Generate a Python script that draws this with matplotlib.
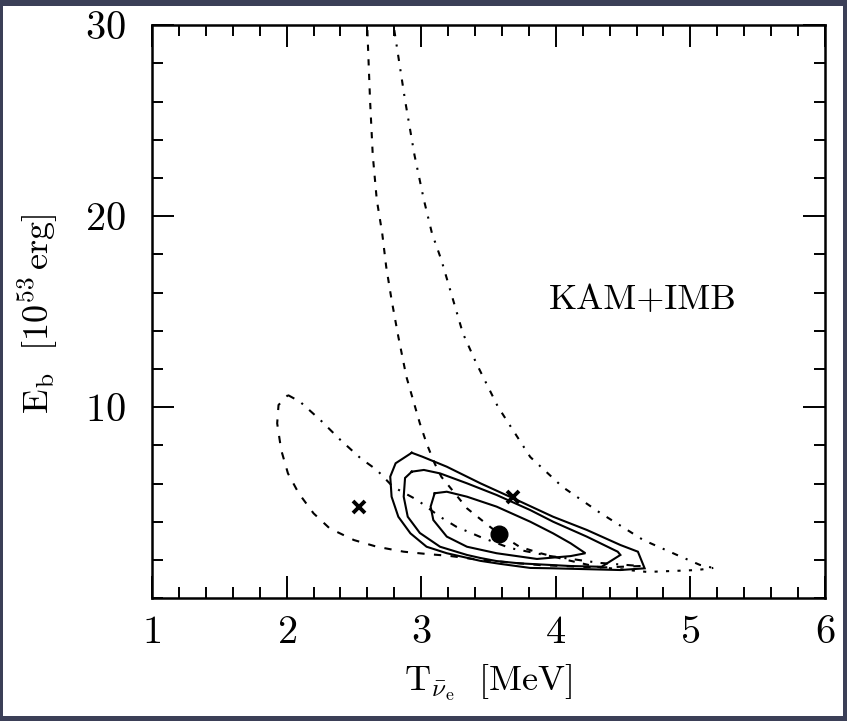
import matplotlib
matplotlib.use("Agg")
import matplotlib.pyplot as plt
from matplotlib.patches import Rectangle
from matplotlib.ticker import MultipleLocator

# Computer Modern look, like the original TeX figure
plt.rcParams['font.family'] = 'cmr10'
plt.rcParams['mathtext.fontset'] = 'cm'
plt.rcParams['axes.formatter.use_mathtext'] = True

# --- data: T [MeV], E_b [10^53 erg] ---

# solid likelihood contours (KAM+IMB), outer -> inner, closed
outer_T = [2.93, 3.01, 3.19, 3.44, 3.68, 3.98, 4.23, 4.48, 4.61, 4.66, 4.48, 3.98, 3.81,
           3.59, 3.44, 3.19, 3.04, 2.92, 2.83, 2.78, 2.77, 2.81, 2.93]
outer_E = [7.62, 7.41, 6.89, 6.02, 5.25, 4.27, 3.58, 2.79, 2.44, 1.57, 1.48, 1.57, 1.59,
           1.80, 1.96, 2.36, 2.70, 3.40, 4.27, 5.32, 6.37, 7.07, 7.62]

middle_T = [2.93, 3.02, 3.14, 3.34, 3.56, 3.81, 3.98, 4.23, 4.46, 4.48, 4.34, 4.11, 3.73,
            3.56, 3.44, 3.34, 3.14, 2.99, 2.90, 2.87, 2.88, 2.93]
middle_E = [6.63, 6.72, 6.54, 6.02, 5.41, 4.62, 4.01, 3.23, 2.44, 2.27, 1.65, 1.69, 1.83,
            1.95, 2.11, 2.27, 2.70, 3.42, 4.27, 5.32, 6.30, 6.63]

inner_T = [3.10, 3.19, 3.34, 3.56, 3.81, 3.98, 4.11, 4.22, 4.11, 3.86, 3.56, 3.34, 3.19,
           3.09, 3.07, 3.10]
inner_E = [5.50, 5.58, 5.32, 4.80, 4.01, 3.40, 2.88, 2.36, 2.21, 2.06, 2.36, 2.70, 3.23,
           4.10, 4.80, 5.50]

# KAM alone: closed loop (upper-right side, then lower side back round)
kam_top_T = [2.01, 2.10, 2.25, 2.40, 2.55, 2.67, 2.79, 2.97, 3.14, 3.26, 3.44, 3.66, 3.96,
             4.33, 4.63]
kam_top_E = [10.64, 10.29, 9.34, 8.29, 7.33, 6.72, 5.84, 5.15, 4.27, 3.75, 3.21, 2.63, 2.21,
             1.85, 1.69]
kam_bot_T = [4.63, 4.33, 3.88, 3.44, 3.21, 3.04, 2.87, 2.67, 2.50, 2.32, 2.20, 2.09,
             2.01, 1.96, 1.93, 1.94, 2.01]
kam_bot_E = [1.69, 1.61, 1.74, 2.01, 2.22, 2.32, 2.44, 2.70, 3.05, 3.66, 4.45, 5.50,
             6.54, 7.76, 9.16, 10.12, 10.64]

# IMB alone: open band, left and right edges, closed at the low right tip
imb_left_T = [2.60, 2.62, 2.64, 2.67, 2.71, 2.74, 2.78, 2.83, 2.89, 2.94, 2.99, 3.04,
              3.10, 3.15, 3.26, 3.34, 3.51, 3.58, 3.73, 3.88, 4.08, 4.31]
imb_left_E = [29.75, 26.08, 23.21, 20.86, 19.13, 17.36, 15.62, 13.70, 11.60, 10.38, 9.16,
              8.11, 7.06, 6.36, 5.41, 4.71, 3.75, 3.37, 2.70, 2.37, 2.01, 1.64]
imb_right_T = [2.80, 2.88, 2.95, 3.02, 3.08, 3.15, 3.23, 3.31, 3.41, 3.57, 3.81, 4.05,
               4.33, 4.65, 4.90, 5.07, 5.17]
imb_right_E = [29.75, 26.08, 23.21, 20.86, 19.11, 17.71, 15.79, 13.87, 12.30, 10.03, 7.40,
               5.83, 4.47, 3.05, 2.27, 1.75, 1.59]
imb_tip_T = [4.31, 4.68, 5.05, 5.17]
imb_tip_E = [1.64, 1.38, 1.48, 1.59]

# best fits
best_T, best_E = [3.58], [3.37]
single_T, single_E = [2.54, 3.68], [4.78, 5.31]

fig = plt.figure(figsize=(8.47, 7.21), dpi=100)
fig.patch.set_facecolor('#3b3f57')
# white page inside the dark frame
frame = Rectangle((3 / 847, 5 / 721), 840 / 847, 710 / 721,
                  transform=fig.transFigure, facecolor='white',
                  edgecolor='none', zorder=-1)
fig.add_artist(frame)

ax = fig.add_axes([152 / 847, 1 - 598.3 / 721, 673 / 847, 573 / 721])
ax.set_zorder(1)

for T, E in [(outer_T, outer_E), (middle_T, middle_E), (inner_T, inner_E)]:
    ax.plot(T, E, color='black', lw=1.5, solid_joinstyle='miter')

ax.plot(kam_top_T, kam_top_E, color='black', lw=1.5, linestyle=(0, (3.5, 4, 1, 4)))
ax.plot(kam_bot_T, kam_bot_E, color='black', lw=1.5, linestyle=(0, (3.5, 4.5)))
ax.plot(imb_left_T, imb_left_E, color='black', lw=1.5, linestyle=(0, (3, 4)))
ax.plot(imb_right_T, imb_right_E, color='black', lw=1.5, linestyle=(0, (3, 4, 1, 4)))
ax.plot(imb_tip_T, imb_tip_E, color='black', lw=1.5, linestyle=(0, (1.5, 4)))

ax.plot(best_T, best_E, 'o', color='black', markersize=12)
ax.plot(single_T, single_E, 'x', color='black', markersize=9, markeredgewidth=2.8)

ax.text(4.65, 15.6, 'KAM+IMB', fontsize=26, ha='center', va='center')

ax.set_xlim(1, 6)
ax.set_ylim(0, 30)
ax.xaxis.set_major_locator(MultipleLocator(1))
ax.xaxis.set_minor_locator(MultipleLocator(0.2))
ax.set_yticks([10, 20, 30])
ax.yaxis.set_minor_locator(MultipleLocator(2))
ax.tick_params(which='both', direction='in', top=True, right=True, width=1.4,
               labelsize=29, colors='black')
ax.tick_params(axis='x', which='major', pad=12)
ax.tick_params(axis='y', which='major', pad=19)
ax.tick_params(which='major', length=16)
ax.tick_params(which='minor', length=8)
for s in ax.spines.values():
    s.set_linewidth(1.8)

ax.set_xlabel(r'$\mathrm{T}_{\bar{\nu}_\mathrm{e}}\ \ [\mathrm{MeV}]$', fontsize=26)
ax.set_ylabel(r'$\mathrm{E_b}\ \ [10^{53}\,\mathrm{erg}]$', fontsize=26)
ax.xaxis.set_label_coords(0.5, -0.113)
ax.yaxis.set_label_coords(-0.137, 0.496)

fig.savefig('out.png', dpi=100, facecolor=fig.get_facecolor())
